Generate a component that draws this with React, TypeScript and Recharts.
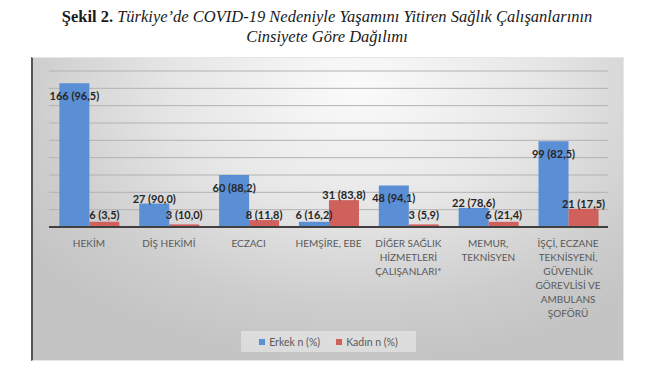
import React from 'react';
import { BarChart, Bar, XAxis, YAxis, ReferenceLine, LabelList, Legend } from 'recharts';

const categories: string[] = [
  'HEKİM',
  'DİŞ HEKİMİ',
  'ECZACI',
  'HEMŞİRE, EBE',
  'DİĞER SAĞLIK\nHİZMETLERİ\nÇALIŞANLARI*',
  'MEMUR,\nTEKNİSYEN',
  'İŞÇİ, ECZANE\nTEKNİSYENİ,\nGÜVENLİK\nGÖREVLİSİ VE\nAMBULANS\nŞOFÖRÜ',
];
const erkekN: number[] = [166, 27, 60, 6, 48, 22, 99];
const erkekPct: number[] = [96.5, 90.0, 88.2, 16.2, 94.1, 78.6, 82.5];
const kadinN: number[] = [6, 3, 8, 31, 3, 6, 21];
const kadinPct: number[] = [3.5, 10.0, 11.8, 83.8, 5.9, 21.4, 17.5];
const yTicks: number[] = [0, 20, 40, 60, 80, 100, 120, 140, 160, 180];
const seriesNames = { erkek: 'Erkek n (%)', kadin: 'Kadın n (%)' };

const fmt = (n: number, p: number) => `${n} (${p.toFixed(1).replace('.', ',')})`;

const data = categories.map((c, i) => ({
  category: c,
  erkek: erkekN[i],
  kadin: kadinN[i],
  erkekLabel: fmt(erkekN[i], erkekPct[i]),
  kadinLabel: fmt(kadinN[i], kadinPct[i]),
}));

const BLUE = '#5A8ED5';
const RED = '#D0605C';
const FONT = 'Lato, "Noto Sans", sans-serif';

const renderLabel = (props: any) => {
  const { x, y, width, height, value } = props;
  const cx = Number(x) + Number(width) / 2;
  const top = Number(y);
  const h = Number(height);
  const base = top + h;
  let cy: number;
  if (h > 30) cy = top + 13;
  else cy = Math.min(base - 12, top - 5);
  return (
    <text
      x={cx}
      y={cy}
      dy={4}
      textAnchor="middle"
      fill="#262626"
      fontSize={11}
      fontWeight={700}
      fontFamily={FONT}
    >
      {value}
    </text>
  );
};

const CategoryTick = (props: any) => {
  const { x, y, payload } = props;
  const lines = String(payload.value).split('\n');
  return (
    <text x={x} y={y} textAnchor="middle" fill="#595959" fontSize={10} fontFamily={FONT}>
      {lines.map((l, i) => (
        <tspan key={i} x={x} dy={i === 0 ? 12 : 14}>
          {l}
        </tspan>
      ))}
    </text>
  );
};

const LegendContent = () => (
  <div
    style={{
      display: 'flex',
      justifyContent: 'center',
      alignItems: 'center',
      gap: 16,
      height: 21,
      background: 'rgba(235,235,235,0.6)',
      fontFamily: FONT,
      fontSize: 10.5,
      color: '#595959',
    }}
  >
    {[
      { name: seriesNames.erkek, color: BLUE },
      { name: seriesNames.kadin, color: RED },
    ].map((it) => (
      <span key={it.name} style={{ display: 'flex', alignItems: 'center', gap: 4 }}>
        <span style={{ width: 6, height: 6, background: it.color, display: 'inline-block' }} />
        {it.name}
      </span>
    ))}
  </div>
);

export default function App() {
  return (
    <div style={{ position: 'relative', width: 650, height: 369, margin: -8, background: '#fff', overflow: 'hidden' }}>
      <div
        style={{
          position: 'absolute',
          left: 0,
          width: 654,
          top: 7,
          textAlign: 'center',
          fontFamily: '"Liberation Serif", serif',
          fontSize: 16.5,
          lineHeight: '20px',
          color: '#1a1a1a',
        }}
      >
        <div>
          <b>Şekil 2.</b> <i>Türkiye’de COVID-19 Nedeniyle Yaşamını Yitiren Sağlık Çalışanlarının</i>
        </div>
        <div>
          <i>Cinsiyete Göre Dağılımı</i>
        </div>
      </div>
      <div
        style={{
          position: 'absolute',
          left: 31,
          top: 57,
          width: 593,
          height: 304,
          boxSizing: 'border-box',
          borderLeft: '2px solid #555',
          borderTop: '1px solid #e6e6e6',
          borderRight: '1px solid #e6e6e6',
          borderBottom: '1px solid #e6e6e6',
          background:
            'radial-gradient(ellipse 70% 90% at 55% 10%, #fbfbfb 0%, #e6e6e6 45%, #cdcdcd 80%, #c4c4c4 100%)',
        }}
      />
      <div style={{ position: 'absolute', left: 31, top: 57 }}>
        <BarChart
          width={593}
          height={304}
          data={data}
          margin={{ top: 14, right: 16, left: 18, bottom: 0 }}
          barCategoryGap="13%"
          barGap={0}
        >
          <YAxis
            width={0}
            domain={[0, 180]}
            ticks={yTicks}
            interval={0}
            tick={false}
            axisLine={false}
            tickLine={false}
          />
          {yTicks.slice(1).map((t) => (
            <ReferenceLine key={t} y={t} stroke="#b2b2b2" strokeWidth={1} zIndex={-50} />
          ))}
          <XAxis
            dataKey="category"
            axisLine={{ stroke: '#404040', strokeWidth: 2 }}
            tickLine={false}
            interval={0}
            height={113}
            tick={<CategoryTick />}
          />
          <Legend
            verticalAlign="bottom"
            content={<LegendContent />}
            wrapperStyle={{ left: 210, width: 175, bottom: 9 }}
          />
          <Bar dataKey="erkek" name={seriesNames.erkek} fill={BLUE} isAnimationActive={false}>
            <LabelList dataKey="erkekLabel" content={renderLabel} />
          </Bar>
          <Bar dataKey="kadin" name={seriesNames.kadin} fill={RED} isAnimationActive={false}>
            <LabelList dataKey="kadinLabel" content={renderLabel} />
          </Bar>
        </BarChart>
      </div>
    </div>
  );
}
